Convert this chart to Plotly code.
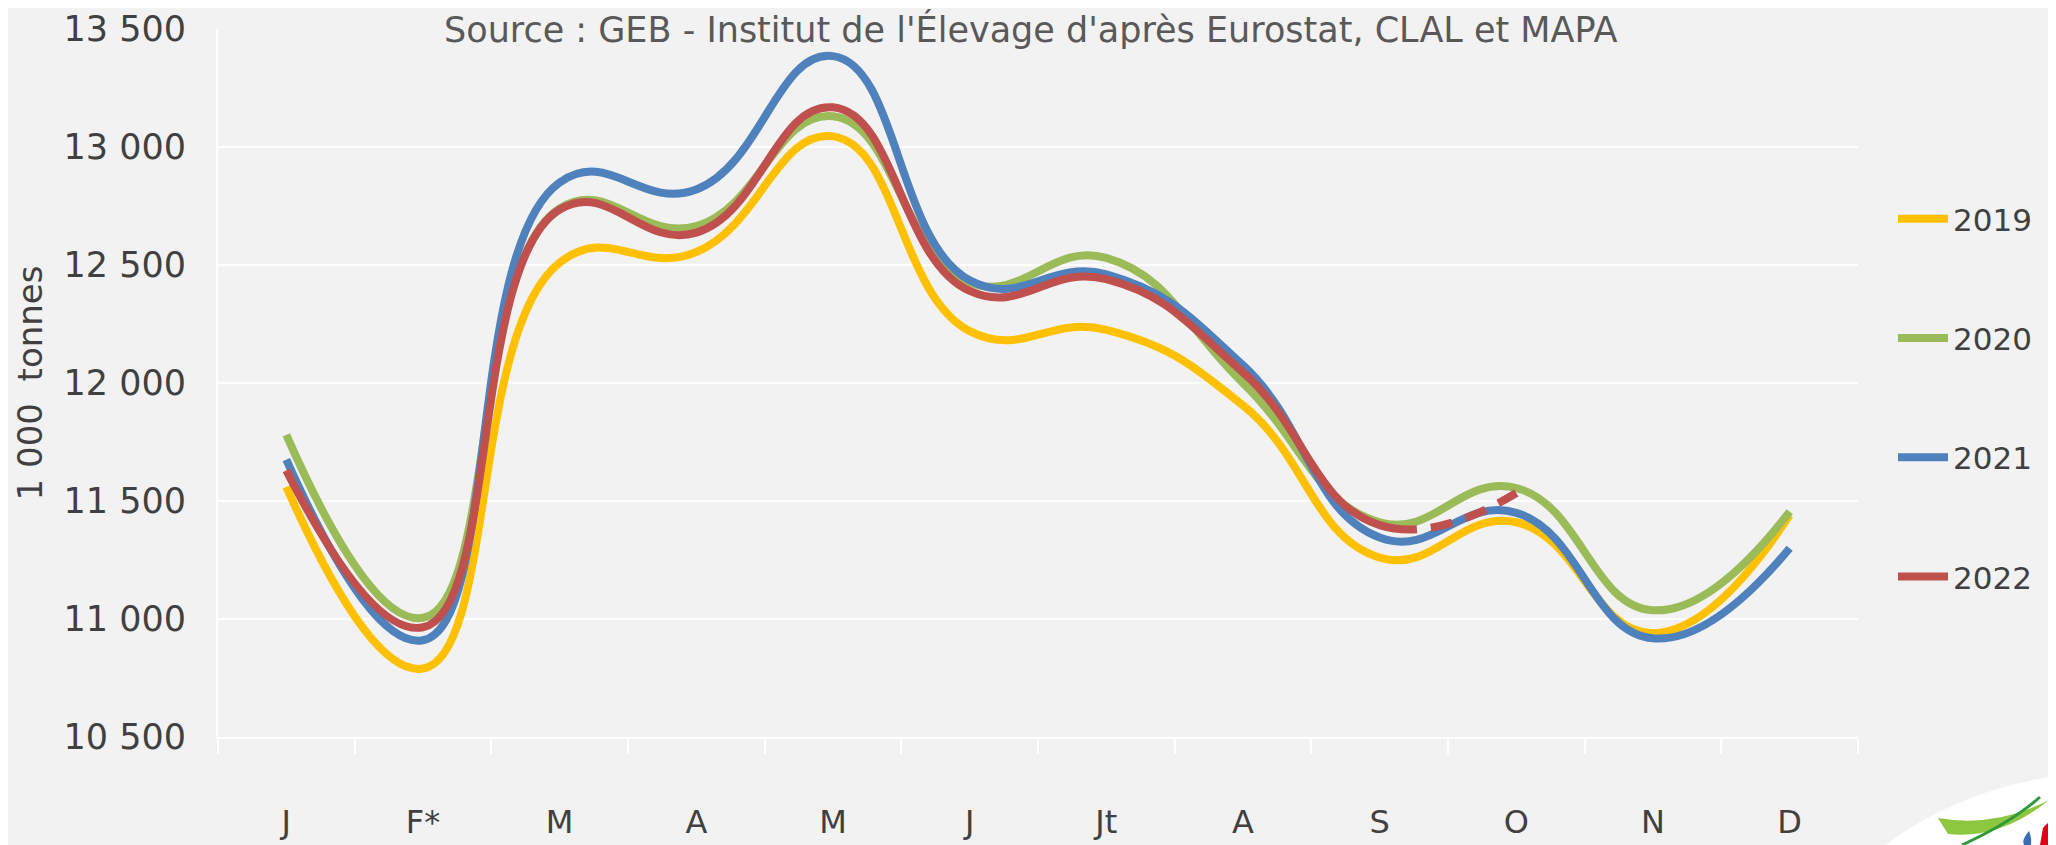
import plotly.graph_objects as go

months = ["J", "F*", "M", "A", "M", "J", "Jt", "A", "S", "O", "N", "D"]
y2019 = [11560, 10790, 12510, 12555, 13045, 12220, 12225, 11905, 11260, 11410, 10940, 11440]
y2020 = [11780, 11005, 12740, 12665, 13130, 12425, 12530, 12000, 11410, 11555, 11037, 11455]
y2021 = [11675, 10910, 12850, 12820, 13385, 12435, 12460, 12075, 11345, 11450, 10918, 11300]
y2022 = [11630, 10965, 12735, 12637, 13168, 12390, 12440, 12045, 11398, 11534, None, None]

colors = {"2019": "#FFC000", "2020": "#9BBB59", "2021": "#4F81BD", "2022": "#C0504D"}
FONT = "DejaVu Sans"
TXT = "#404040"
SMOOTH = 1.3
# 2022: solid up to September, dashed (provisional) September -> October
DASH_2022 = "1798px,14px,22px,14px,22px,14px,22px,14px,60px"

x = list(range(len(months)))
fig = go.Figure()

for name, ys in [("2019", y2019), ("2020", y2020), ("2021", y2021)]:
    fig.add_trace(go.Scatter(x=x, y=ys, name=name, mode="lines",
                             line=dict(color=colors[name], width=8, shape="spline", smoothing=SMOOTH),
                             legendgroup=name))
fig.add_trace(go.Scatter(x=x, y=y2022, name="2022", mode="lines",
                         line=dict(color=colors["2022"], width=8, shape="spline",
                                   smoothing=SMOOTH, dash=DASH_2022),
                         legendgroup="2022"))

# page offset (body margin) and target plot-area position on screen
OFF = 8
W, H = 2056 - OFF, 845 - OFF
L, R, T, B = 218, 1858, 29, 737


def P(xp, yp):
    return f"{(xp - L) / (R - L):.5f},{(B - yp) / (B - T):.5f}"


shapes = [
    dict(type="path", xref="paper", yref="paper", layer="above",
         path=f"M {P(1885,845)} Q {P(1960,790)} {P(2056,776)} L {P(2056,845)} Z",
         fillcolor="white", line=dict(width=0)),
    dict(type="path", xref="paper", yref="paper", layer="above",
         path=f"M {P(1938,818)} Q {P(1995,828)} {P(2049,800)} Q {P(2000,840)} {P(1948,834)} Z",
         fillcolor="#8DC63F", line=dict(width=0)),
    dict(type="path", xref="paper", yref="paper", layer="above",
         path=f"M {P(1962,845)} Q {P(2012,822)} {P(2040,797)}",
         line=dict(color="#2E9A3A", width=3)),
    dict(type="path", xref="paper", yref="paper", layer="above",
         path=f"M {P(2040,845)} L {P(2043,828)} Q {P(2049,820)} {P(2056,821)} L {P(2056,845)} Z",
         fillcolor="#E1001A", line=dict(width=0)),
    dict(type="path", xref="paper", yref="paper", layer="above",
         path=f"M {P(2029,831)} Q {P(2021,840)} {P(2024,845)} L {P(2031,845)} Q {P(2032,838)} {P(2029,831)} Z",
         fillcolor="#3B6DB5", line=dict(width=0)),
]

fig.update_layout(
    width=W, height=H,
    margin=dict(l=L - OFF, r=W - (R - OFF), t=T - OFF, b=H - (B - OFF)),
    paper_bgcolor="#F2F2F2", plot_bgcolor="#F2F2F2",
    separators=", ",
    font=dict(family=FONT, color=TXT, size=32),
    showlegend=True,
    legend=dict(x=(1893 - L) / (R - L), xanchor="left", y=(B - 192) / (B - T), yanchor="top",
                bgcolor="rgba(0,0,0,0)", font=dict(family=FONT, size=31, color=TXT),
                tracegroupgap=76, itemwidth=50, traceorder="grouped"),
    shapes=shapes,
    annotations=[dict(text="Source : GEB - Institut de l'Élevage d'après Eurostat, CLAL et MAPA",
                      xref="paper", yref="paper", x=(1030 - L) / (R - L), y=1, xanchor="center",
                      yanchor="middle", showarrow=False,
                      font=dict(family=FONT, size=35, color="#595959"))],
)

fig.update_xaxes(
    range=[-0.5, len(months) - 0.5], tickvals=x, ticktext=months,
    ticks="", showgrid=False, zeroline=False, automargin=False,
    showline=True, linecolor="white", linewidth=2,
    tickfont=dict(family=FONT, size=32, color=TXT), ticklabelstandoff=56,
    minor=dict(tickvals=[i - 0.5 for i in range(len(months) + 1)], ticks="outside",
               ticklen=15, tickcolor="white", tickwidth=2, showgrid=False),
)
fig.update_yaxes(
    range=[10500, 13500], dtick=500, tick0=10500, tickformat=",d",
    showgrid=True, gridcolor="white", gridwidth=2, zeroline=False, automargin=False,
    showline=True, linecolor="white", linewidth=2,
    tickfont=dict(family=FONT, size=35, color=TXT), ticklabelstandoff=23,
    title=dict(text="1 000\u00a0 tonnes", font=dict(family=FONT, size=34, color=TXT), standoff=11),
)

fig.write_html("out.html")
